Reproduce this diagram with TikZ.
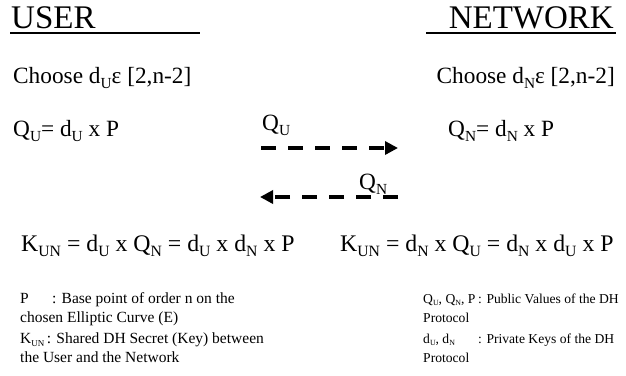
\documentclass[tikz,border=0pt]{standalone}
\usepackage{fontspec}
\setmainfont{Liberation Serif}
\usetikzlibrary{arrows.meta}
\makeatletter
\newcommand{\sbs}[1]{\raisebox{-0.24em}{\fontsize{\strip@pt\dimexpr0.66\dimexpr\f@size pt\relax\relax}{0}\selectfont #1}}
\newcommand{\ssb}[1]{\raisebox{-0.22em}{\fontsize{\strip@pt\dimexpr0.58\dimexpr\f@size pt\relax\relax}{0}\selectfont #1}}
\makeatother
\tikzset{
  title/.style={font=\fontsize{33}{36}\selectfont, inner sep=0pt, anchor=base west},
  big/.style={font=\fontsize{23.3}{26}\selectfont, inner sep=0pt, anchor=base west},
  keyeq/.style={font=\fontsize{23.8}{27}\selectfont, inner sep=0pt, anchor=base west},
  legend/.style={font=\fontsize{15.5}{19}\selectfont, inner sep=0pt, anchor=base west},
  rlegend/.style={font=\fontsize{13.6}{19}\selectfont, inner sep=0pt, anchor=base west},
  uline/.style={line width=1.5pt},
  msg/.style={line width=4pt, dash pattern=on 15pt off 12pt, -{Triangle[length=13pt,width=13pt]}}
}
\begin{document}
\begin{tikzpicture}[x=1pt,y=-1pt]
\useasboundingbox (0,0) rectangle (626,375);
% titles
\node[title] (user) at (11,28) {USER};
\node[title, anchor=base east] (net) at (614,28) {NETWORK};
\coordinate (u1) at (10,33); \coordinate (u2) at (200,33);
\coordinate (n1) at (426,33); \coordinate (n2) at (616,33);
\draw[uline] (u1) -- (u2);
\draw[uline] (n1) -- (n2);
% choose
\node[big] (cu) at (13,83) {Choose d\sbs{U}ε [2,n-2]};
\node[big, anchor=base east] (cn) at (615,83) {Choose d\sbs{N}ε [2,n-2]};
% public values
\node[big] (qu) at (13,136) {Q\sbs{U}= d\sbs{U} x P};
\node[big] (qn) at (448,136) {Q\sbs{N}= d\sbs{N} x P};
% messages
\node[big] (lqu) at (262,130) {Q\sbs{U}};
\node[big] (lqn) at (359,189) {Q\sbs{N}};
\coordinate (a1s) at (261,148); \coordinate (a1e) at (398,148);
\coordinate (a2s) at (398,197); \coordinate (a2e) at (260,197);
\draw[msg] (a1s) -- (a1e);
\draw[msg] (a2s) -- (a2e);
% keys
\node[keyeq] (ku) at (21,251) {K\sbs{UN} = d\sbs{U} x Q\sbs{N} = d\sbs{U} x d\sbs{N} x P};
\node[keyeq] (kn) at (340,251) {K\sbs{UN} = d\sbs{N} x Q\sbs{U} = d\sbs{N} x d\sbs{U} x P};
% legend left
\node[legend] (l1) at (20,303) {\makebox[32pt][l]{P}: Base point of order n on the};
\node[legend] (l2) at (20,322) {chosen Elliptic Curve (E)};
\node[legend] (l3) at (20,343) {K\ssb{UN}\,: Shared DH Secret (Key) between};
\node[legend] (l4) at (20,362) {the User and the Network};
% legend right
\node[rlegend] (r1) at (423,303) {Q\ssb{U}, Q\ssb{N}, P};
\node[rlegend] (r2) at (423,322) {Protocol};
\node[rlegend] (r1b) at (478,303) {: Public Values of the DH};
\node[rlegend] (r3) at (423,343) {d\ssb{U}, d\ssb{N}};
\node[rlegend] (r4) at (423,362) {Protocol};
\node[rlegend] (r3b) at (478,343) {: Private Keys of the DH};
\end{tikzpicture}
\end{document}
